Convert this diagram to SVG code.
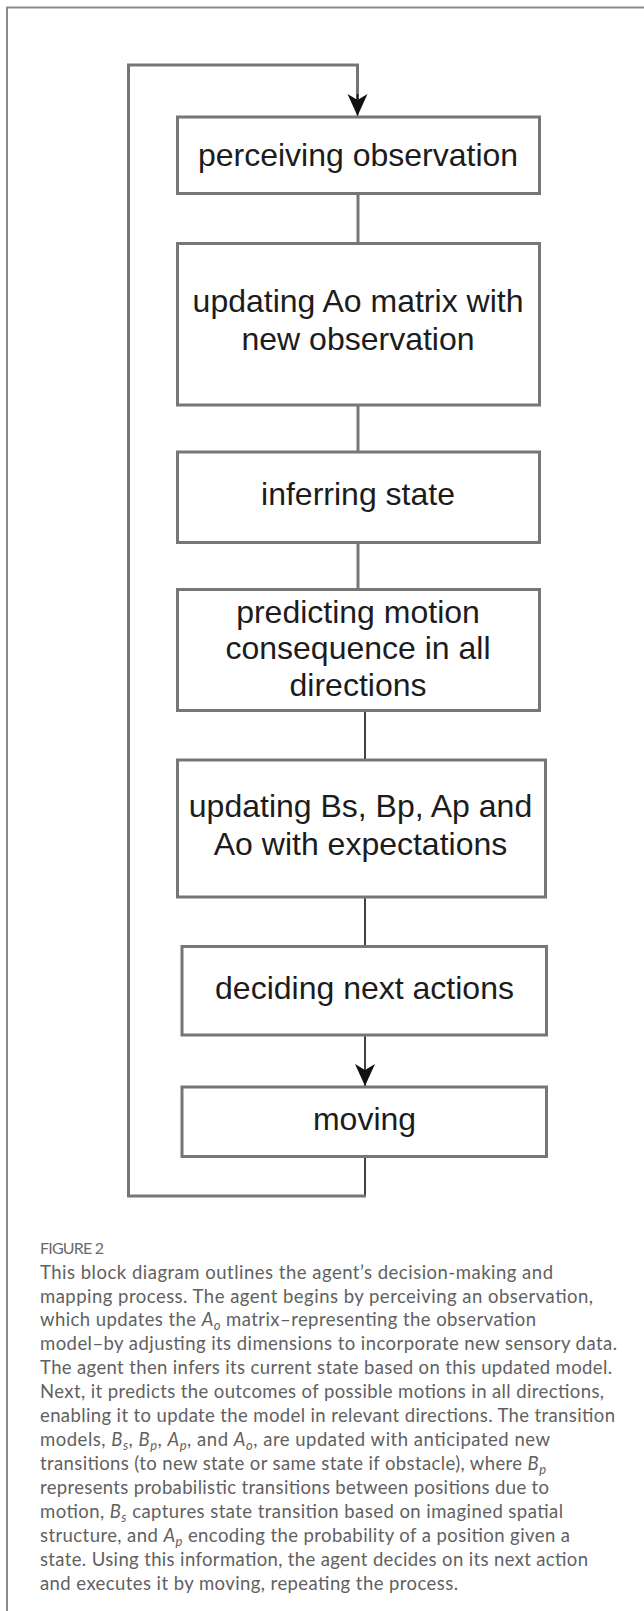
<svg xmlns="http://www.w3.org/2000/svg" width="644" height="1611" viewBox="0 0 644 1611">
  <style>
    .box { fill: #ffffff; stroke: #767676; stroke-width: 3; }
    .lbl { font-family: "Liberation Sans", Arial, Helvetica, sans-serif; font-size: 32px; fill: #1c1c1c; text-anchor: middle; }
    .wire-g { fill: none; stroke: #767676; stroke-width: 3; }
    .wire-k { fill: none; stroke: #111111; stroke-width: 1.6; }
    .frame { fill: none; stroke: #8a8a8a; stroke-width: 2; }
    .cap { font-family: Lato, "Open Sans", "Liberation Sans", sans-serif; font-size: 18.5px; fill: #616161; }
    .fig { font-family: Lato, "Open Sans", "Liberation Sans", sans-serif; font-size: 16px; fill: #6a6a6a; }
    .it { font-style: italic; }
    .sub { font-style: italic; font-size: 13px; }
  </style>
  <defs>
    <marker id="arrow" markerUnits="userSpaceOnUse" viewBox="-1 -12 24 24" markerWidth="24" markerHeight="24" refX="22" refY="0" orient="auto">
      <path d="M0,-10 L22,0 L0,10 L6,0 Z" fill="#111111"/>
    </marker>
  </defs>

  <!-- panel border (left and top edges only) -->
  <path class="frame" d="M7,1611 V7.5 H644"/>

  <!-- connectors -->
  <g id="connectors">
    <line class="wire-g" x1="358" y1="194" x2="358" y2="243"/>
    <line class="wire-g" x1="358" y1="405" x2="358" y2="452"/>
    <line class="wire-g" x1="358" y1="542" x2="358" y2="589"/>
    <line class="wire-k" x1="365" y1="711" x2="365" y2="760"/>
    <line class="wire-k" x1="365" y1="897" x2="365" y2="946"/>
    <line class="wire-k" x1="365" y1="1035" x2="365" y2="1086" marker-end="url(#arrow)"/>
    <!-- feedback loop from "moving" back to "perceiving observation" -->
    <line class="wire-k" x1="365" y1="1157" x2="365" y2="1196"/>
    <path class="wire-g" d="M366,1196 H128.5 V65 H357.5 V100"/>
    <line class="wire-k" x1="357.5" y1="94" x2="357.5" y2="116" marker-end="url(#arrow)"/>
  </g>

  <g id="n1">
    <rect class="box" x="177.5" y="117" width="362" height="76.5"/>
    <text class="lbl" x="358" y="166">perceiving observation</text>
  </g>
  <g id="n2">
    <rect class="box" x="177.5" y="243.5" width="362" height="161.5"/>
    <text class="lbl" x="358" y="312">updating Ao matrix with</text>
    <text class="lbl" x="358" y="350">new observation</text>
  </g>
  <g id="n3">
    <rect class="box" x="177.5" y="452" width="362" height="90.5"/>
    <text class="lbl" x="358" y="505">inferring state</text>
  </g>
  <g id="n4">
    <rect class="box" x="177.5" y="589.5" width="362" height="121"/>
    <text class="lbl" x="358" y="622.5">predicting motion</text>
    <text class="lbl" x="358" y="659">consequence in all</text>
    <text class="lbl" x="358" y="695.5">directions</text>
  </g>
  <g id="n5">
    <rect class="box" x="177.5" y="760" width="368" height="137"/>
    <text class="lbl" x="360.5" y="817">updating Bs, Bp, Ap and</text>
    <text class="lbl" x="360.5" y="855">Ao with expectations</text>
  </g>
  <g id="n6">
    <rect class="box" x="182" y="946.5" width="364.5" height="88.5"/>
    <text class="lbl" x="364.5" y="998.5">deciding next actions</text>
  </g>
  <g id="n7">
    <rect class="box" x="182" y="1087" width="364.5" height="69.5"/>
    <text class="lbl" x="364.5" y="1129.5">moving</text>
  </g>

  <!-- figure caption -->
  <g id="caption">
    <text class="fig" x="40" y="1254" textLength="64" lengthAdjust="spacing">FIGURE 2</text>
    <text class="cap" x="40" y="1279" textLength="513" lengthAdjust="spacing">This block diagram outlines the agent’s decision-making and</text>
    <text class="cap" x="40" y="1303" textLength="553" lengthAdjust="spacing">mapping process. The agent begins by perceiving an observation,</text>
    <text class="cap" x="40" y="1326" textLength="496" lengthAdjust="spacing">which updates the <tspan class="it">A</tspan><tspan class="sub" dy="4">o</tspan><tspan dy="-4"> matrix–representing the observation</tspan></text>
    <text class="cap" x="40" y="1350" textLength="577" lengthAdjust="spacing">model–by adjusting its dimensions to incorporate new sensory data.</text>
    <text class="cap" x="40" y="1374" textLength="572" lengthAdjust="spacing">The agent then infers its current state based on this updated model.</text>
    <text class="cap" x="40" y="1398" textLength="564" lengthAdjust="spacing">Next, it predicts the outcomes of possible motions in all directions,</text>
    <text class="cap" x="40" y="1422" textLength="575" lengthAdjust="spacing">enabling it to update the model in relevant directions. The transition</text>
    <text class="cap" x="40" y="1446" textLength="510" lengthAdjust="spacing">models, <tspan class="it">B</tspan><tspan class="sub" dy="4">s</tspan><tspan dy="-4">, </tspan><tspan class="it">B</tspan><tspan class="sub" dy="4">p</tspan><tspan dy="-4">, </tspan><tspan class="it">A</tspan><tspan class="sub" dy="4">p</tspan><tspan dy="-4">, and </tspan><tspan class="it">A</tspan><tspan class="sub" dy="4">o</tspan><tspan dy="-4">, are updated with anticipated new</tspan></text>
    <text class="cap" x="40" y="1470" textLength="506" lengthAdjust="spacing">transitions (to new state or same state if obstacle), where <tspan class="it">B</tspan><tspan class="sub" dy="4">p</tspan></text>
    <text class="cap" x="40" y="1494" textLength="509" lengthAdjust="spacing">represents probabilistic transitions between positions due to</text>
    <text class="cap" x="40" y="1518" textLength="523" lengthAdjust="spacing">motion, <tspan class="it">B</tspan><tspan class="sub" dy="4">s</tspan><tspan dy="-4"> captures state transition based on imagined spatial</tspan></text>
    <text class="cap" x="40" y="1542" textLength="530" lengthAdjust="spacing">structure, and <tspan class="it">A</tspan><tspan class="sub" dy="4">p</tspan><tspan dy="-4"> encoding the probability of a position given a</tspan></text>
    <text class="cap" x="40" y="1566" textLength="548" lengthAdjust="spacing">state. Using this information, the agent decides on its next action</text>
    <text class="cap" x="40" y="1590" textLength="418" lengthAdjust="spacing">and executes it by moving, repeating the process.</text>
  </g>
</svg>
